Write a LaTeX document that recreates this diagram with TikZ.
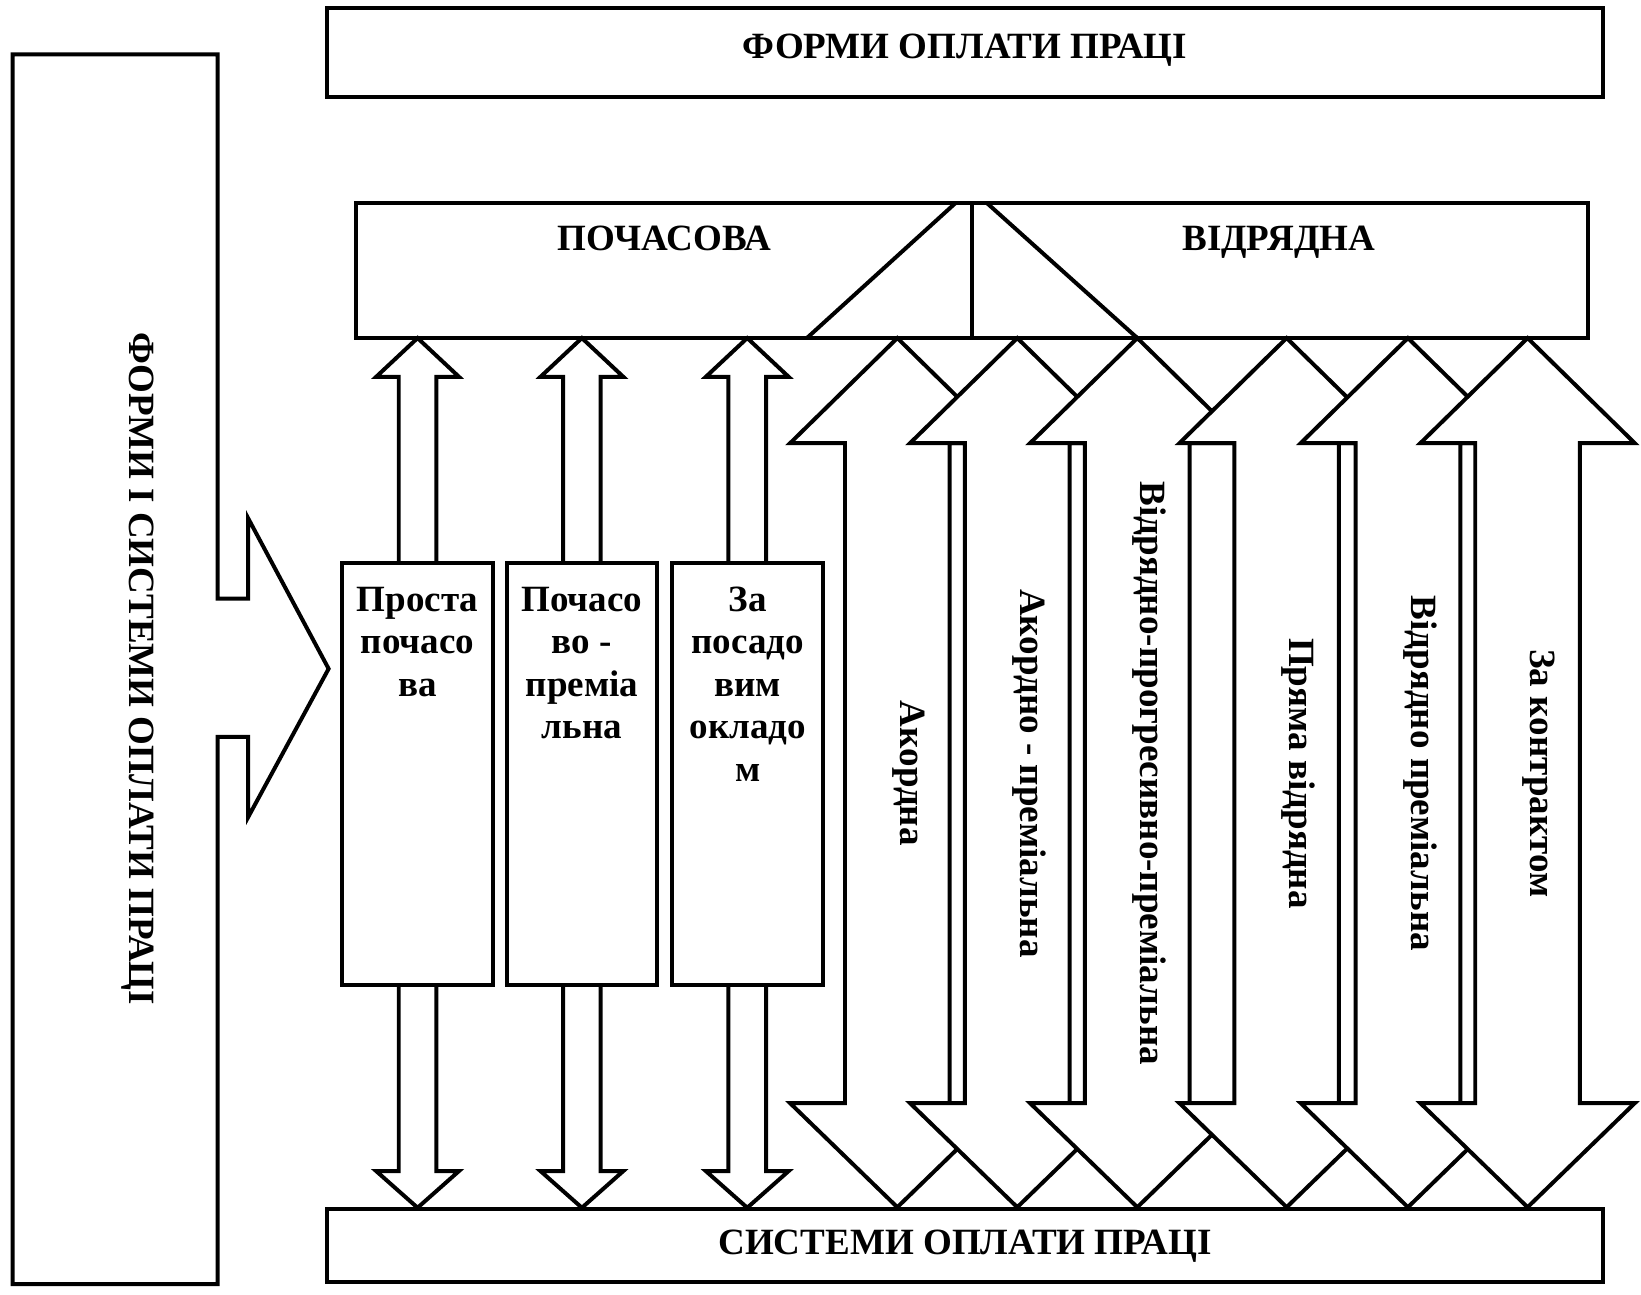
\documentclass[tikz,border=0pt]{standalone}
\usepackage{fontspec}
\setmainfont{Liberation Serif}
\usepackage{tikz}

\begin{document}
\begin{tikzpicture}[x=.5pt,y=-.5pt,line join=miter,
  frame/.style={draw,line width=1.9pt,fill=white,inner sep=0pt},
  caption/.style={inner sep=0pt,font=\fontsize{17.7}{20.25}\selectfont\bfseries},
  colcaption/.style={caption,align=center,anchor=north},
  sidecaption/.style={caption,rotate=-90,anchor=base}]
\useasboundingbox (0,0) rectangle (1568,1237);
% boxes
\node[frame,minimum width=610pt,minimum height=42.5pt] (forms) at (922,50.5) {};
\node[frame,minimum width=610pt,minimum height=35pt] (systems) at (922,1190) {};
\node[frame,minimum width=588.5pt,minimum height=64.5pt] (kinds) at (929,258.5) {};
\draw[line width=1.9pt] (kinds.north) -- (kinds.south);
\draw[line width=1.9pt] (913,194) -- (771,323);
\draw[line width=1.9pt] (943,194) -- (1086.7,323);
\draw[frame] (12,52) -- (208,52) -- (208,572) -- (237,572) -- (237,495) -- (314,639)
  -- (237,781) -- (237,704) -- (208,704) -- (208,1227) -- (12,1227) -- cycle;
% big arrows
\draw[frame] (857.4,323) -- ++(102.5,100.5) -- ++(-52.5,0) -- ++(0,630.5) -- ++(52.5,0) -- ++(-102.5,99.5) -- ++(-102.5,-99.5) -- ++(52.5,0) -- ++(0,-630.5) -- ++(-52.5,0) -- cycle;
\draw[frame] (972,323) -- ++(102.5,100.5) -- ++(-52.5,0) -- ++(0,630.5) -- ++(52.5,0) -- ++(-102.5,99.5) -- ++(-102.5,-99.5) -- ++(52.5,0) -- ++(0,-630.5) -- ++(-52.5,0) -- cycle;
\draw[frame] (1086.7,323) -- ++(102.5,100.5) -- ++(-52.5,0) -- ++(0,630.5) -- ++(52.5,0) -- ++(-102.5,99.5) -- ++(-102.5,-99.5) -- ++(52.5,0) -- ++(0,-630.5) -- ++(-52.5,0) -- cycle;
\draw[frame] (1229.4,323) -- ++(102.5,100.5) -- ++(-52.5,0) -- ++(0,630.5) -- ++(52.5,0) -- ++(-102.5,99.5) -- ++(-102.5,-99.5) -- ++(52.5,0) -- ++(0,-630.5) -- ++(-52.5,0) -- cycle;
\draw[frame] (1345.3,323) -- ++(102.5,100.5) -- ++(-52.5,0) -- ++(0,630.5) -- ++(52.5,0) -- ++(-102.5,99.5) -- ++(-102.5,-99.5) -- ++(52.5,0) -- ++(0,-630.5) -- ++(-52.5,0) -- cycle;
\draw[frame] (1459.6,323) -- ++(102.5,100.5) -- ++(-52.5,0) -- ++(0,630.5) -- ++(52.5,0) -- ++(-102.5,99.5) -- ++(-102.5,-99.5) -- ++(52.5,0) -- ++(0,-630.5) -- ++(-52.5,0) -- cycle;
% small arrows
\draw[frame] (399,323) -- ++(39.5,37) -- ++(-21.5,0) -- ++(0,759) -- ++(21.5,0) -- ++(-39.5,35) -- ++(-39.5,-35) -- ++(21.5,0) -- ++(0,-759) -- ++(-21.5,0) -- cycle;
\draw[frame] (556,323) -- ++(39.5,37) -- ++(-21.5,0) -- ++(0,759) -- ++(21.5,0) -- ++(-39.5,35) -- ++(-39.5,-35) -- ++(21.5,0) -- ++(0,-759) -- ++(-21.5,0) -- cycle;
\draw[frame] (714,323) -- ++(39.5,37) -- ++(-21.5,0) -- ++(0,759) -- ++(21.5,0) -- ++(-39.5,35) -- ++(-39.5,-35) -- ++(21.5,0) -- ++(0,-759) -- ++(-21.5,0) -- cycle;
\node[frame,minimum width=72pt,minimum height=201.5pt] (c1) at (399,739.5) {};
\node[frame,minimum width=72pt,minimum height=201.5pt] (c2) at (556,739.5) {};
\node[frame,minimum width=72pt,minimum height=201.5pt] (c3) at (714.5,739.5) {};
% texts
\node[caption,anchor=base] (tforms) at (922,56) {ФОРМИ ОПЛАТИ ПРАЦІ};
\node[caption,anchor=base] (tsystems) at (922,1199) {СИСТЕМИ ОПЛАТИ ПРАЦІ};
\node[caption,anchor=base] (ttime) at (635,239.5) {ПОЧАСОВА};
\node[caption,anchor=base] (tpiece) at (1222,239.5) {ВІДРЯДНА};
\node[sidecaption] (tall) at (124,639) {ФОРМИ І СИСТЕМИ ОПЛАТИ ПРАЦІ};
\node[colcaption] (tc1) at (399,560.5) {Проста\\почасо\\ва};
\node[colcaption] (tc2) at (556,560.5) {Почасо\\во -\\преміа\\льна};
\node[colcaption] (tc3) at (714.5,560.5) {За\\посадо\\вим\\окладо\\м};
\node[sidecaption] (ta1) at (860.4,739) {Акордна};
\node[sidecaption] (ta2) at (975,739) {Акордно - преміальна};
\node[sidecaption] (ta3) at (1089.7,739) {Відрядно-прогресивно-преміальна};
\node[sidecaption] (ta4) at (1232.4,739) {Пряма відрядна};
\node[sidecaption] (ta5) at (1348.3,739) {Відрядно преміальна};
\node[sidecaption] (ta6) at (1462.6,739) {За контрактом};
\end{tikzpicture}
\end{document}
